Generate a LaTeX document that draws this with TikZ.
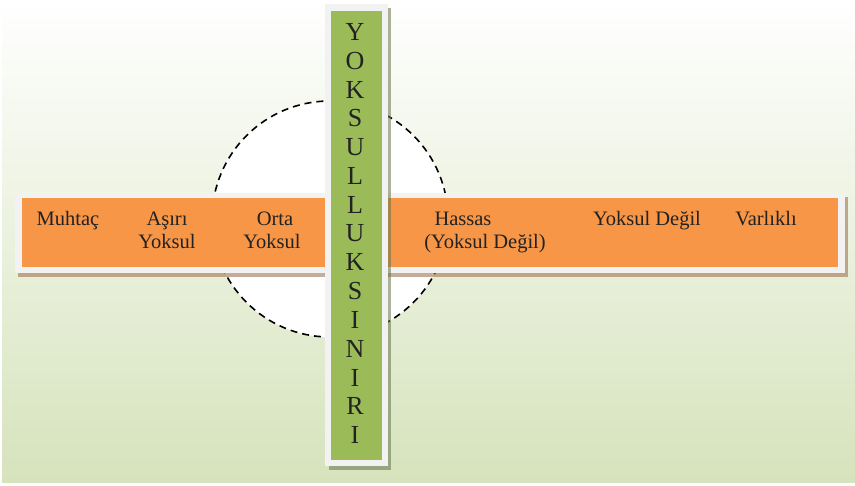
\documentclass[tikz,border=0pt]{standalone}
\usepackage{fontspec}
\setmainfont{Liberation Serif}
\usepackage{xcolor}
\usepackage{tikz}

\definecolor{bandorange}{HTML}{F79646}
\definecolor{bandgreen}{HTML}{9BBB59}
\definecolor{framegray}{HTML}{F2F2F3}
\definecolor{shadebrown}{HTML}{9A6A42}
\definecolor{shadegreen}{HTML}{66744A}
\definecolor{bgmid}{HTML}{EEF3E4}
\definecolor{bgbottom}{HTML}{D6E3BC}
\definecolor{inkgray}{HTML}{222222}

\begin{document}
\begin{tikzpicture}[x=1pt,y=-1pt,
    lbl/.style={font=\fontsize{20.5}{24}\selectfont, text=inkgray, inner sep=0pt, anchor=base},
    harf/.style={font=\fontsize{26}{26}\selectfont, text=inkgray, inner sep=0pt}]
                \useasboundingbox (0,0) rectangle (855,486);
                % 背景
                \fill[white] (0,0) rectangle (855,486);
                \shade[top color=white, middle color=bgmid, bottom color=bgbottom] (2,0) rectangle (855,483);

                % 虚线圆
                \draw[line width=1.6pt, dash pattern=on 7pt off 5pt, fill=white] (330,219) circle[radius=118pt];

                % 横条
                \fill[shadebrown, opacity=0.55] (18,197) rectangle (848,277);
                \fill[framegray] (15,193) rectangle (845,273);
                \fill[bandorange] (22,198) rectangle (838,267);

                % 竖条
                \fill[shadegreen, opacity=0.55] (329,8) rectangle (391,470);
                \fill[framegray] (325,4) rectangle (388,466);
                \fill[bandgreen] (331,11) rectangle (382,460);

                % 竖排文字
                \foreach \ch [count=\i] in {Y,O,K,S,U,L,L,U,K,S,I,N,I,R,I}
                    \node[harf] (harf\i) at (355,{32+28.8*(\i-1)}) {\ch};

                % 横条文字
                \node[lbl] (muhtac) at (68,226) {Muhtaç};
                \node[lbl] (asiri) at (167,226) {Aşırı};
                \node[lbl] (asiriy) at (167,249) {Yoksul};
                \node[lbl] (orta) at (275,226) {Orta};
                \node[lbl] (ortay) at (272,249) {Yoksul};
                \node[lbl] (hassas) at (463,226) {Hassas};
                \node[lbl] (hassasy) at (485,249) {(Yoksul Değil)};
                \node[lbl] (degil) at (647,226) {Yoksul Değil};
                \node[lbl] (varlikli) at (766,226) {Varlıklı};
            \end{tikzpicture}
\end{document}
